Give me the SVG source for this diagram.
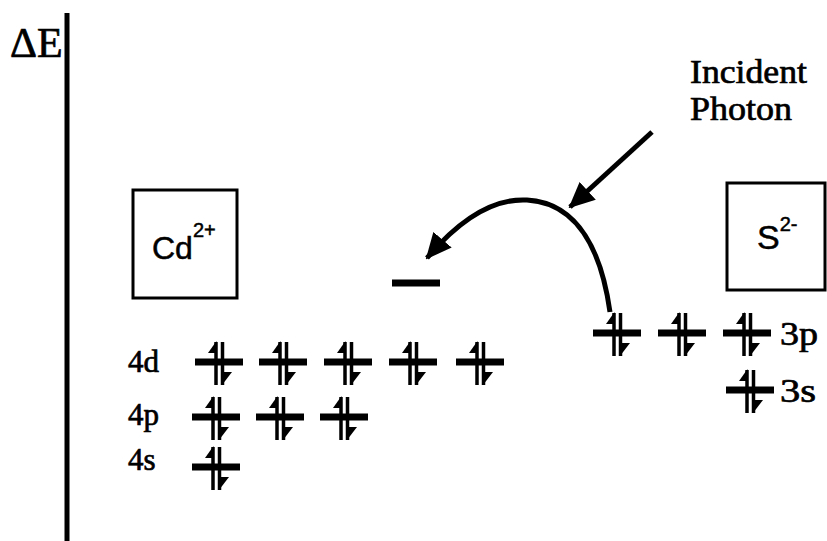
<svg xmlns="http://www.w3.org/2000/svg" width="827" height="541" viewBox="0 0 827 541">
<style>
  .serif { font-family: "Liberation Serif", "Times New Roman", serif; fill: #000; stroke: #000; stroke-width: 0.7; }
  .sans { font-family: "Liberation Sans", Arial, sans-serif; fill: #000; stroke: #000; stroke-width: 0.5; }
  .box { fill: none; stroke: #000; stroke-width: 3; }
  .bar { stroke: #000; stroke-width: 7; stroke-linecap: butt; }
  .spin { stroke: #000; stroke-width: 3.5; }
  .conn { fill: none; stroke: #000; stroke-width: 5; }
</style>
<defs>
  <marker id="head" markerUnits="userSpaceOnUse" viewBox="0 0 26 24" refX="24" refY="12" markerWidth="26" markerHeight="24" orient="auto">
    <path d="M0,0 L26,12 L0,24 Z" fill="#000"/>
  </marker>
  <g id="pair">
    <line class="bar" x1="-24" y1="0" x2="24" y2="0"/>
    <line class="spin" x1="-3" y1="-20" x2="-3" y2="23"/>
    <line class="spin" x1="3.5" y1="-20" x2="3.5" y2="23"/>
    <polygon points="-11,-9 -2.5,-21 -2.5,-9" fill="#000"/>
    <polygon points="3,10 13,10 3,23" fill="#000"/>
  </g>
</defs>
<rect width="827" height="541" fill="#fff"/>

<g id="axis">
  <line x1="67" y1="13" x2="67" y2="541" stroke="#000" stroke-width="5"/>
  <text class="serif" x="10" y="57" font-size="42">ΔE</text>
</g>

<g id="cd-box">
  <rect class="box" x="133" y="190" width="104" height="108"/>
  <text class="sans" x="152" y="259" font-size="32">Cd<tspan font-size="20" dy="-22">2+</tspan></text>
</g>

<g id="s-box">
  <rect class="box" x="727" y="183" width="98" height="107"/>
  <text class="sans" x="757" y="249" font-size="34">S<tspan font-size="20" dy="-18">2-</tspan></text>
</g>

<g id="photon-label">
  <text class="serif" x="690" y="83" font-size="34" textLength="117" lengthAdjust="spacingAndGlyphs">Incident</text>
  <text class="serif" x="690" y="120" font-size="34" textLength="102" lengthAdjust="spacingAndGlyphs">Photon</text>
</g>

<g id="cd-4d">
  <text class="serif" x="128" y="372" font-size="31">4d</text>
  <use href="#pair" x="219" y="362"/>
  <use href="#pair" x="283" y="362"/>
  <use href="#pair" x="348" y="362"/>
  <use href="#pair" x="413" y="362"/>
  <use href="#pair" x="480" y="362"/>
</g>

<g id="cd-4p">
  <text class="serif" x="128" y="425" font-size="31">4p</text>
  <use href="#pair" x="216" y="417"/>
  <use href="#pair" x="280" y="417"/>
  <use href="#pair" x="344" y="417"/>
</g>

<g id="cd-4s">
  <text class="serif" x="128" y="470" font-size="31">4s</text>
  <use href="#pair" x="216" y="467"/>
</g>

<g id="cd-empty">
  <line class="bar" x1="392" y1="283" x2="440" y2="283"/>
</g>

<g id="s-3p">
  <use href="#pair" x="617" y="333"/>
  <use href="#pair" x="682" y="333"/>
  <use href="#pair" x="747" y="333"/>
  <text class="serif" x="780" y="345" font-size="33" textLength="38" lengthAdjust="spacingAndGlyphs">3p</text>
</g>

<g id="s-3s">
  <use href="#pair" x="750" y="390"/>
  <text class="serif" x="780" y="402" font-size="33" textLength="36" lengthAdjust="spacingAndGlyphs">3s</text>
</g>

<g id="connectors">
  <path class="conn" d="M652,132 L570,207" marker-end="url(#head)"/>
  <path class="conn" d="M610,312 C602,255 580,203 527,200 C490,198 455,225 427,258" stroke-width="4" marker-end="url(#head)"/>
</g>
</svg>
